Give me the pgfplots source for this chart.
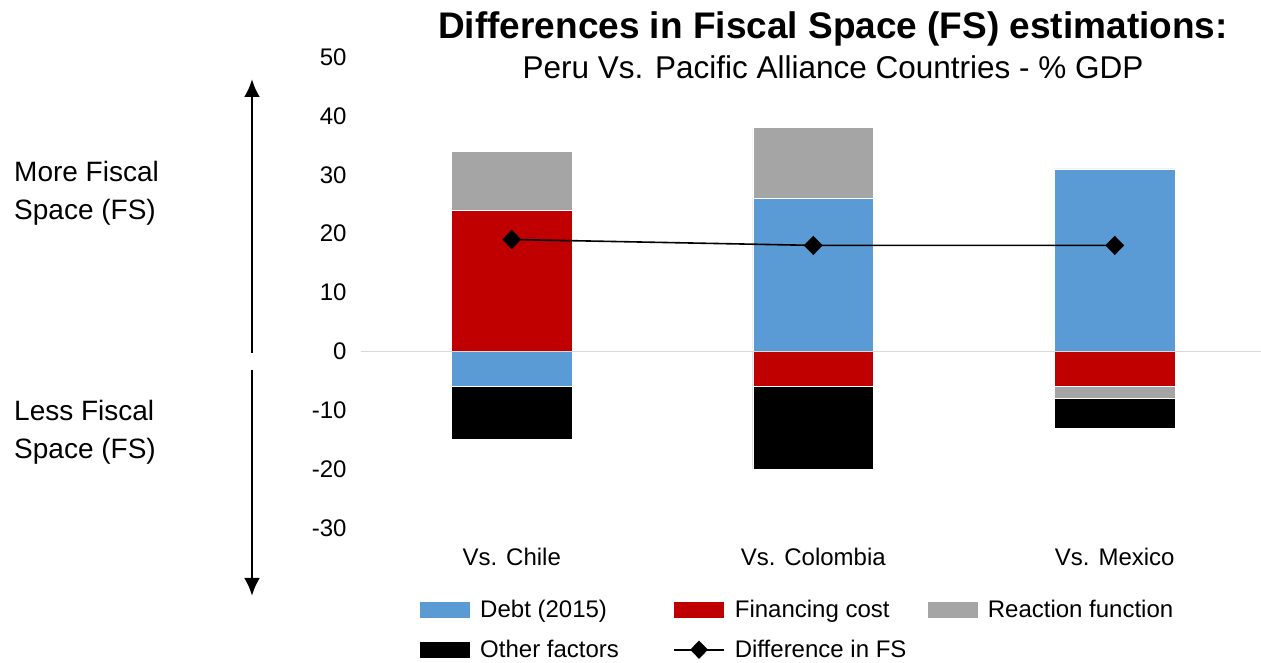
\documentclass[border=0pt]{standalone}
\usepackage{pgfplots}
\pgfplotsset{compat=1.18}
\usepackage{pgfplotstable}
\usepackage{fontspec}
\setmainfont{Liberation Sans}
\usetikzlibrary{arrows.meta}
\definecolor{cDebt}{HTML}{5B9BD5}
\definecolor{cFin}{HTML}{C00000}
\definecolor{cReac}{HTML}{A5A5A5}
\definecolor{cOth}{HTML}{000000}

\pgfplotstableread{
x debt fin reac oth
0 0 24 10 0
1 26 0 12 0
2 31 0 0 0
}\postab
\pgfplotstableread{
x debt fin reac oth
0 -6 0 0 -9
1 0 -6 0 -14
2 0 -6 -2 -5
}\negtab
\pgfplotstableread{
x diff
0 19
1 18
2 18
}\difftab

\pgfplotsset{
  base/.style={
    at={(361pt,135pt)}, anchor=south west,
    scale only axis, width=900pt, height=471pt,
    xmin=-0.5, xmax=2.485, ymin=-30, ymax=50,
    clip=false,
  },
  bars/.style={base, hide axis, ybar stacked, bar width=0.4,
    every axis plot/.append style={draw=white, line width=0.5pt}},
  patchlegend/.style={legend image code/.code={\fill[##1] (0pt,-8pt) rectangle (50pt,8pt);}},
  linelegend/.style={legend image code/.code={\draw[mark repeat=2,mark phase=2,##1] plot coordinates {(0pt,0pt) (25pt,0pt) (50pt,0pt)};}},
}

\begin{document}
\begin{tikzpicture}
\useasboundingbox (0,0) rectangle (1261pt,663pt);
% positive parts
\begin{axis}[bars]
\addplot[fill=cDebt] table[x=x,y=debt]{\postab};
\addplot[fill=cFin] table[x=x,y=fin]{\postab};
\addplot[fill=cReac] table[x=x,y=reac]{\postab};
\addplot[fill=cOth] table[x=x,y=oth]{\postab};
\end{axis}
% negative parts
\begin{axis}[bars]
\addplot[fill=cDebt] table[x=x,y=debt]{\negtab};
\addplot[fill=cFin] table[x=x,y=fin]{\negtab};
\addplot[fill=cReac] table[x=x,y=reac]{\negtab};
\addplot[fill=cOth] table[x=x,y=oth]{\negtab};
\end{axis}
% main axis
\begin{axis}[base,
  axis line style={draw=none}, major tick length=0pt,
  ytick={-30,-20,...,50},
  xtick={0,1,2}, xticklabels={Vs. Chile, Vs. Colombia, Vs. Mexico},
  ticklabel style={font=\fontsize{24}{28}\selectfont},
  /pgf/number format/assume math mode=true,
  yticklabel style={xshift=-11pt},
  xticklabel style={yshift=-17pt},
  extra y ticks={0}, extra y tick labels={},
  extra y tick style={grid=major, major grid style={draw=black!15, line width=1.2pt}},
  legend columns=3,
  legend style={at={(axis description cs:0.0656,-0.149)}, anchor=north west,
    draw=none, fill=none, inner sep=0pt, font=\fontsize{24}{28}\selectfont,
    column sep=0pt, row sep=17pt,
    /tikz/every odd column/.append style={column sep=8pt}},
  legend cell align=left,
]
\addlegendimage{patchlegend, fill=cDebt, draw=none}
\addlegendentry{\makebox[191pt][l]{Debt (2015)}}
\addlegendimage{patchlegend, fill=cFin, draw=none}
\addlegendentry{\makebox[191pt][l]{Financing cost}}
\addlegendimage{patchlegend, fill=cReac, draw=none}
\addlegendentry{Reaction function}
\addlegendimage{patchlegend, fill=cOth, draw=none}
\addlegendentry{\makebox[191pt][l]{Other factors}}
\addlegendimage{linelegend, black, line width=1.6pt, mark=diamond*, mark size=8pt, mark options={xscale=1.3}}
\addlegendentry{Difference in FS}
\addplot[forget plot, black, line width=1.6pt, mark=diamond*, mark size=8.5pt, mark options={xscale=1.3}] table[x=x,y=diff]{\difftab};
\end{axis}
% annotations
\node[font=\fontsize{37}{40}\selectfont\bfseries] at (833pt,634pt) {Differences in Fiscal Space (FS) estimations:};
\node[font=\fontsize{31.5}{36}\selectfont] at (833pt,596pt) {Peru Vs. Pacific Alliance Countries - \% GDP};
\node[anchor=west, align=left, inner sep=0pt, font=\fontsize{28}{38}\selectfont] at (14pt,470pt) {More Fiscal\\Space (FS)};
\node[anchor=west, align=left, inner sep=0pt, font=\fontsize{28}{38}\selectfont] at (14pt,230.5pt) {Less Fiscal\\Space (FS)};
\draw[line width=2.8pt, -{Latex[length=18pt,width=16pt]}] (252pt,310pt) -- (252pt,584pt);
\draw[line width=2.8pt, -{Latex[length=18pt,width=16pt]}] (252pt,293pt) -- (252pt,67pt);
\end{tikzpicture}
\end{document}
